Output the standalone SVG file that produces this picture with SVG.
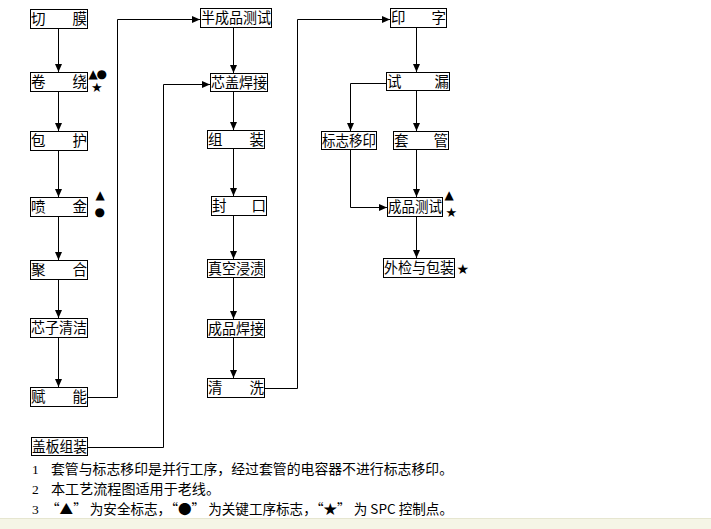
<svg xmlns="http://www.w3.org/2000/svg" width="711" height="529" viewBox="0 0 711 529">
<defs>
<marker id="ah" viewBox="0 0 8 8" refX="8" refY="4" markerWidth="8" markerHeight="8" markerUnits="userSpaceOnUse" orient="auto">
<path d="M0,0.5 L8,4 L0,7.5 Z" fill="#000"/>
</marker>
<style>
.b{fill:#fff;stroke:#000;stroke-width:1}
.t{font-family:"Noto Sans CJK SC","Liberation Sans",sans-serif;font-size:14.5px;fill:#000}
.e{text-anchor:end}
.c{text-anchor:middle}
.l{fill:none;stroke:#000;stroke-width:1}
.a{marker-end:url(#ah)}
.s{font-family:"DejaVu Sans",sans-serif;font-size:12px;fill:#000}
.st{font-size:13px}
.n{font-family:"Noto Sans CJK SC","Liberation Serif",serif;font-size:13.5px;fill:#000}
</style>
</defs>
<rect width="711" height="529" fill="#fff"/>
<rect x="0" y="518" width="711" height="11" fill="#f5f5e6"/>
<line x1="0" y1="518.5" x2="711" y2="518.5" stroke="#e6e6d0"/>

<g id="connectors">
<path class="l a" d="M58.5,29 V72"/>
<path class="l a" d="M58.5,92 V131"/>
<path class="l a" d="M58.5,150 V197"/>
<path class="l a" d="M58.5,217 V260"/>
<path class="l a" d="M58.5,279 V318"/>
<path class="l a" d="M58.5,338 V387"/>
<path class="l a" d="M87,397.5 H117.5 V19.5 H200"/>
<path class="l a" d="M88,447.5 H163.5 V84.5 H210"/>
<path class="l a" d="M233.5,28 V73"/>
<path class="l a" d="M233.5,92 V130"/>
<path class="l a" d="M233.5,149 V196"/>
<path class="l a" d="M233.5,216 V259"/>
<path class="l a" d="M233.5,278 V319"/>
<path class="l a" d="M233.5,338 V378"/>
<path class="l a" d="M265,388.5 H297.5 V19.5 H390"/>
<path class="l a" d="M416.5,28 V72"/>
<path class="l a" d="M416.5,91 V131"/>
<path class="l a" d="M416.5,150 V197"/>
<path class="l a" d="M416.5,217 V258"/>
<path class="l a" d="M386,83.5 H350.5 V131"/>
<path class="l a" d="M350.5,149 V207.5 H387"/>
</g>

<g id="n1"><rect class="b" x="30.5" y="9.5" width="57" height="19"/><text class="t" x="31" y="24">切</text><text class="t e" x="87" y="24">膜</text></g>
<g id="n2"><rect class="b" x="30.5" y="72.5" width="57" height="19"/><text class="t" x="31" y="87">卷</text><text class="t e" x="87" y="87">绕</text>
<text class="s" x="88.5" y="78">▲</text><text class="s" x="96.5" y="78">●</text><text class="s st" x="91" y="92">★</text></g>
<g id="n3"><rect class="b" x="30.5" y="131.5" width="57" height="19"/><text class="t" x="31" y="146">包</text><text class="t e" x="87" y="146">护</text></g>
<g id="n4"><rect class="b" x="30.5" y="197.5" width="57" height="19"/><text class="t" x="31" y="212">喷</text><text class="t e" x="87" y="212">金</text>
<text class="s" x="95.5" y="199">▲</text><text class="s" x="94.5" y="216">●</text></g>
<g id="n5"><rect class="b" x="30.5" y="260.5" width="57" height="19"/><text class="t" x="31" y="275">聚</text><text class="t e" x="87" y="275">合</text></g>
<g id="n6"><rect class="b" x="30.5" y="318.5" width="57" height="19"/><text class="t" x="31" y="333" textLength="56" lengthAdjust="spacingAndGlyphs">芯子清洁</text></g>
<g id="n7"><rect class="b" x="30.5" y="387.5" width="57" height="19"/><text class="t" x="31" y="402">赋</text><text class="t e" x="87" y="402">能</text></g>
<g id="n8"><rect class="b" x="31.5" y="437.5" width="56" height="18"/><text class="t" x="32" y="452" textLength="55" lengthAdjust="spacingAndGlyphs">盖板组装</text></g>

<g id="m1"><rect class="b" x="200.5" y="8.5" width="71" height="19"/><text class="t" x="201" y="23" textLength="70" lengthAdjust="spacingAndGlyphs">半成品测试</text></g>
<g id="m2"><rect class="b" x="210.5" y="73.5" width="57" height="18"/><text class="t" x="211" y="88" textLength="56" lengthAdjust="spacingAndGlyphs">芯盖焊接</text></g>
<g id="m3"><rect class="b" x="207.5" y="130.5" width="57" height="18"/><text class="t" x="208" y="145">组</text><text class="t e" x="264" y="145">装</text></g>
<g id="m4"><rect class="b" x="211.5" y="196.5" width="55" height="19"/><text class="t" x="212" y="211">封</text><text class="t e" x="266" y="211">口</text></g>
<g id="m5"><rect class="b" x="207.5" y="259.5" width="57" height="18"/><text class="t" x="208" y="274" textLength="56" lengthAdjust="spacingAndGlyphs">真空浸渍</text></g>
<g id="m6"><rect class="b" x="207.5" y="319.5" width="57" height="18"/><text class="t" x="208" y="334" textLength="56" lengthAdjust="spacingAndGlyphs">成品焊接</text></g>
<g id="m7"><rect class="b" x="207.5" y="378.5" width="57" height="19"/><text class="t" x="208" y="393">清</text><text class="t e" x="264" y="393">洗</text></g>

<g id="r1"><rect class="b" x="390.5" y="8.5" width="56" height="19"/><text class="t" x="391" y="23">印</text><text class="t e" x="446" y="23">字</text></g>
<g id="r2"><rect class="b" x="386.5" y="72.5" width="63" height="18"/><text class="t" x="387" y="87">试</text><text class="t e" x="449" y="87">漏</text></g>
<g id="r3"><rect class="b" x="321.5" y="131.5" width="55" height="18"/><text class="t" x="322" y="146" textLength="54" lengthAdjust="spacingAndGlyphs">标志移印</text></g>
<g id="r4"><rect class="b" x="393.5" y="131.5" width="55" height="18"/><text class="t" x="394" y="146">套</text><text class="t e" x="448" y="146">管</text></g>
<g id="r5"><rect class="b" x="387.5" y="197.5" width="55" height="19"/><text class="t" x="388" y="212" textLength="54" lengthAdjust="spacingAndGlyphs">成品测试</text>
<text class="s" x="444.5" y="199">▲</text><text class="s st" x="445.5" y="217">★</text></g>
<g id="r6"><rect class="b" x="383.5" y="258.5" width="71" height="19"/><text class="t" x="384" y="273" textLength="70" lengthAdjust="spacingAndGlyphs">外检与包装</text>
<text class="s" x="456.5" y="274" style="font-size:14px">★</text></g>

<g id="notes">
<text class="n" x="32" y="474" style="font-family:'Liberation Serif',serif">1</text>
<text class="n" x="51" y="474" textLength="402" lengthAdjust="spacingAndGlyphs">套管与标志移印是并行工序，经过套管的电容器不进行标志移印。</text>
<text class="n" x="32" y="494" style="font-family:'Liberation Serif',serif">2</text>
<text class="n" x="51" y="494" textLength="169" lengthAdjust="spacingAndGlyphs">本工艺流程图适用于老线。</text>
<text class="n" x="32" y="514" style="font-family:'Liberation Serif',serif">3</text>
<text class="n" x="46" y="514" textLength="407" lengthAdjust="spacingAndGlyphs">“▲” 为安全标志，“●” 为关键工序标志，“★” 为 SPC 控制点。</text>
</g>
</svg>
